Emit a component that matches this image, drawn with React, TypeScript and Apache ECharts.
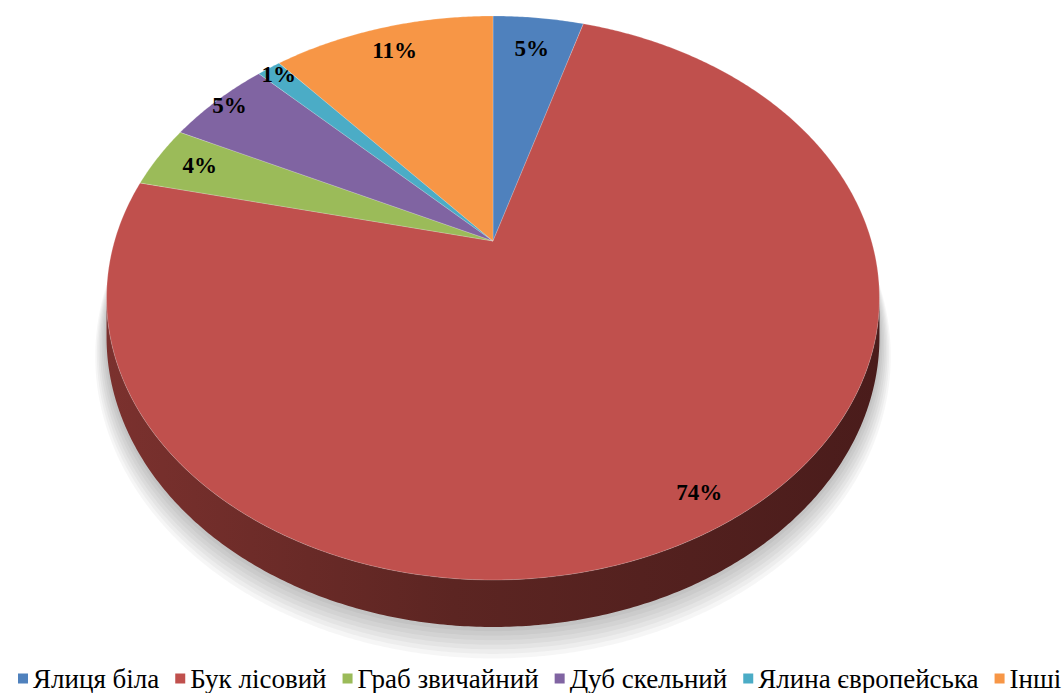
import React, { useEffect, useRef } from "react";
import * as echarts from "echarts";

const categories = ["Ялиця біла", "Бук лісовий", "Граб звичайний", "Дуб скельний", "Ялина європейська", "Інші"];
const shares = [4.6, 74.0, 3.6, 5.3, 1.2, 11.3];
const colors = ["#4f81bd", "#c0504d", "#9bbb59", "#8064a2", "#4bacc6", "#f79646"];

// layout / style constants (not data)
const CX = 493, CY = 241, A = 378.5, B = 270.5, K = 0.202, D = 37.5;
const labelRadius = [0.83, 0.91, 0.87, 0.95, 0.95, 0.87];
const VIS0 = 101.7, VIS1 = 258.3; // visible rim range (deg, clockwise from top)

const total = shares.reduce((s, v) => s + v, 0);
const starts: number[] = [];
{
  let acc = 0;
  shares.forEach((v) => { starts.push(acc); acc += (v / total) * 360; });
}

function proj(thetaDeg: number, r: number, depth: number): number[] {
  const t = (thetaDeg * Math.PI) / 180;
  const u = r * Math.sin(t);
  const v = -r * Math.cos(t);
  const w = 1 - K * v;
  return [CX + (A * u) / w, CY + (B * v) / w + depth / w];
}

function arcPts(a0: number, a1: number, depth: number, r = 1): number[][] {
  const pts: number[][] = [];
  const n = Math.max(2, Math.ceil((a1 - a0) / 0.5));
  for (let i = 0; i <= n; i++) pts.push(proj(a0 + ((a1 - a0) * i) / n, r, depth));
  return pts;
}

export default function App() {
  const ref = useRef<HTMLDivElement>(null);
  useEffect(() => {
    const chart = echarts.init(ref.current!, undefined, { renderer: "svg" });
    const sideGrad = new echarts.graphic.LinearGradient(
      106, 0, 879, 0,
      [
        { offset: 0, color: "#7b312e" },
        { offset: 0.45, color: "#5c2522" },
        { offset: 1, color: "#4a1c1b" },
      ],
      true
    );
    const shadowLayers = [0, 1, 2, 3, 4, 5, 6];
    const sideSeries: any = {
      type: "custom",
      name: "side",
      coordinateSystem: "none",
      silent: true,
      data: shares.map((v, i) => [v, i]),
      renderItem: (params: any) => {
        const i = params.dataIndex;
        const children: any[] = [];
        if (i === 0) {
          shadowLayers.forEach((j) => {
            children.push({
              type: "polygon",
              z2: -10,
              shape: { points: arcPts(0, 360, D + 2 + j * 2.2, 1.004 + j * 0.004) },
              style: { fill: "rgba(0,0,0,0.035)" },
            });
          });
        }
        const a0 = Math.max(starts[i], VIS0);
        const a1 = Math.min(starts[i] + (shares[i] / total) * 360, VIS1);
        if (a1 > a0) {
          const top = arcPts(a0, a1, 0);
          const bot = arcPts(a0, a1, D).reverse();
          children.push({
            type: "polygon",
            shape: { points: top.concat(bot) },
            style: { fill: sideGrad },
          });
        }
        return { type: "group", children };
      },
    };
    const topSeries = categories.map((name, i) => ({
      type: "custom",
      name,
      coordinateSystem: "none",
      silent: true,
      itemStyle: { color: colors[i] },
      data: [[shares[i]]],
      renderItem: (params: any, api: any) => {
        const a0 = starts[i];
        const sweep = (api.value(0) / total) * 360;
        const a1 = a0 + sweep;
        const pts = [proj(0, 0, 0)].concat(arcPts(a0, a1, 0));
        const lp = proj(a0 + sweep / 2, labelRadius[i], 0);
        return {
          type: "group",
          children: [
            {
              type: "polygon",
              shape: { points: pts },
              style: { fill: colors[i], stroke: "rgba(255,255,255,0.35)", lineWidth: 0.6 },
            },
            {
              type: "text",
              x: lp[0],
              y: lp[1] - 13,
              style: {
                text: Math.round((api.value(0) / total) * 100) + "%",
                fill: "#000",
                font: "bold 23px 'Liberation Serif'",
                align: "center",
              },
            },
          ],
        };
      },
    }));
    chart.setOption({
      animation: false,
      backgroundColor: "#ffffff",
      legend: {
        data: categories,
        left: 13,
        top: 660,
        width: 1400,
        icon: "rect",
        itemWidth: 10,
        itemHeight: 10,
        itemGap: 16,
        selectedMode: false,
        textStyle: { fontFamily: "Liberation Serif", fontSize: 27, color: "#000" },
      },
      series: [sideSeries, ...topSeries],
    });
    return () => chart.dispose();
  }, []);
  return <div ref={ref} style={{ position: "fixed", left: 0, top: 0, width: 1064, height: 693 }} />;
}
